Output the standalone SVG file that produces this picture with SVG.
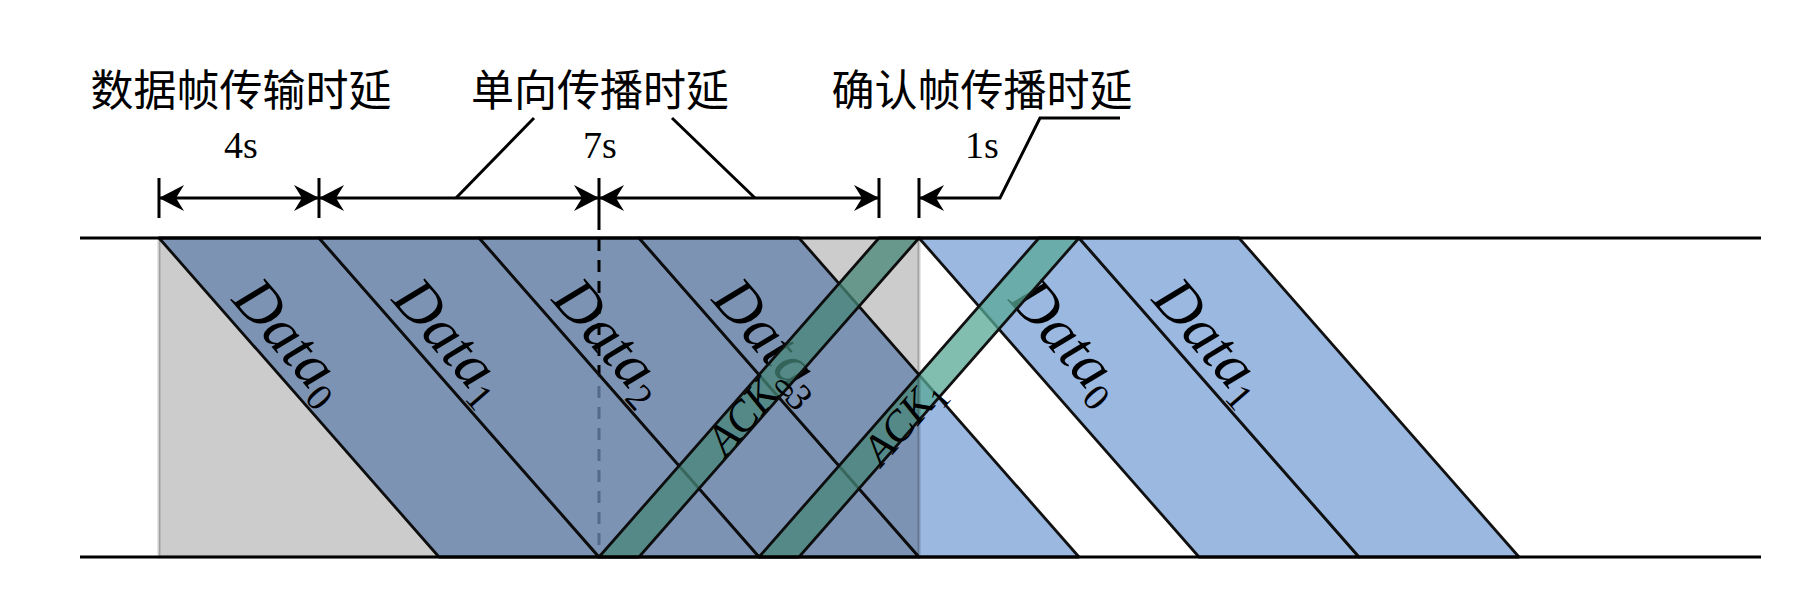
<svg xmlns="http://www.w3.org/2000/svg" width="1808" height="608" viewBox="0 0 1808 608">
<style>
.band{fill:#82a6da;fill-opacity:0.8;stroke:#111;stroke-width:2.8;stroke-linejoin:round}
.ack{fill:#58a895;fill-opacity:0.75;stroke:#111;stroke-width:2.8;stroke-linejoin:round}
.shade{fill:#000;fill-opacity:0.2;stroke:#000;stroke-opacity:0.2;stroke-width:3}
.rail{stroke:#000;stroke-width:3;fill:none}
.dim{stroke:#000;stroke-width:3;fill:none}
.tick{stroke:#000;stroke-width:3}
.dash{stroke:#000;stroke-width:3;stroke-dasharray:12 9}
.cn{font-family:"Noto Sans CJK SC",sans-serif;font-size:43px;fill:#000;text-anchor:middle}
.num{font-family:"Liberation Serif",serif;font-size:38px;fill:#000;text-anchor:middle}
.lab{font-family:"Liberation Serif",serif;font-style:italic;font-size:61px;fill:#000;text-anchor:middle}
.alab{font-family:"Liberation Serif",serif;font-style:italic;font-size:43px;fill:#000;text-anchor:middle}
.sub{font-style:normal}
</style>
<defs>
<marker id="ah" viewBox="-26 -14 28 28" refX="0" refY="0" markerWidth="28" markerHeight="28" markerUnits="userSpaceOnUse" orient="auto-start-reverse">
<path d="M0,0 L-25,-13 L-17,0 L-25,13 Z" fill="#000"/>
</marker>
</defs>

<g id="frames">
<g id="data0"><polygon class="band" points="159,238 319,238 599,557 439,557"/></g>
<g id="data2"><polygon class="band" points="479,238 639,238 919,557 759,557"/></g>
<g id="data3"><polygon class="band" points="639,238 799,238 1079,557 919,557"/></g>
<g id="data0b"><polygon class="band" points="919,238 1079,238 1359,557 1199,557"/></g>
<g id="data1b"><polygon class="band" points="1079,238 1239,238 1519,557 1359,557"/></g>
<line id="split" class="dash" x1="599" y1="218" x2="599" y2="557"/>
<g id="data1"><polygon class="band" points="319,238 479,238 759,557 599,557"/></g>
</g>

<g id="frame-labels">
<text class="lab" transform="translate(292,340) rotate(48.7)" y="20">Data<tspan class="sub" font-size="38" dy="10">0</tspan></text>
<text class="lab" transform="translate(452,340) rotate(48.7)" y="20">Data<tspan class="sub" font-size="38" dy="10">1</tspan></text>
<text class="lab" transform="translate(612,340) rotate(48.7)" y="20">Data<tspan class="sub" font-size="38" dy="10">2</tspan></text>
<text class="lab" transform="translate(772,340) rotate(48.7)" y="20">Data<tspan class="sub" font-size="38" dy="10">3</tspan></text>
<text class="lab" transform="translate(1069,340) rotate(48.7)" y="20">Data<tspan class="sub" font-size="38" dy="10">0</tspan></text>
<text class="lab" transform="translate(1212,340) rotate(48.7)" y="20">Data<tspan class="sub" font-size="38" dy="10">1</tspan></text>
</g>

<g id="acks">
<g id="ack0"><polygon class="ack" points="599,557 639,557 919,238 879,238"/>
<text class="alab" transform="translate(748,412) rotate(-48.7)" y="13">ACK<tspan class="sub" font-size="29" dy="8">0</tspan></text></g>
<g id="ack1"><polygon class="ack" points="759,557 799,557 1079,238 1039,238"/>
<text class="alab" transform="translate(904,422) rotate(-48.7)" y="13">ACK<tspan class="sub" font-size="29" dy="8">1</tspan></text></g>
</g>

<rect id="wait-shade" class="shade" x="159" y="238" width="760" height="319"/>

<g id="rails">
<line class="rail" x1="80" y1="238" x2="1761" y2="238"/>
<line class="rail" x1="80" y1="557" x2="1761" y2="557"/>
</g>

<g id="connectors">
<line class="tick" x1="159" y1="178" x2="159" y2="218"/>
<line class="tick" x1="319" y1="178" x2="319" y2="218"/>
<line class="tick" x1="599" y1="178" x2="599" y2="218"/>
<line class="tick" x1="879" y1="178" x2="879" y2="218"/>
<line class="tick" x1="919" y1="178" x2="919" y2="218"/>
<line class="dim" x1="159" y1="198" x2="319" y2="198" marker-start="url(#ah)" marker-end="url(#ah)"/>
<line class="dim" x1="319" y1="198" x2="599" y2="198" marker-start="url(#ah)" marker-end="url(#ah)"/>
<line class="dim" x1="599" y1="198" x2="879" y2="198" marker-start="url(#ah)" marker-end="url(#ah)"/>
<polyline class="dim" points="1120,118 1040,118 1000,198 919,198" marker-end="url(#ah)"/>
<line class="dim" x1="456" y1="198" x2="534" y2="118"/>
<line class="dim" x1="755" y1="198" x2="672" y2="118"/>
</g>

<g id="dim-labels">
<text class="cn" x="241" y="106">数据帧传输时延</text>
<text class="cn" x="600" y="106">单向传播时延</text>
<text class="cn" x="982" y="106">确认帧传播时延</text>
<text class="num" x="241" y="158">4s</text>
<text class="num" x="600" y="158">7s</text>
<text class="num" x="982" y="158">1s</text>
</g>
</svg>
